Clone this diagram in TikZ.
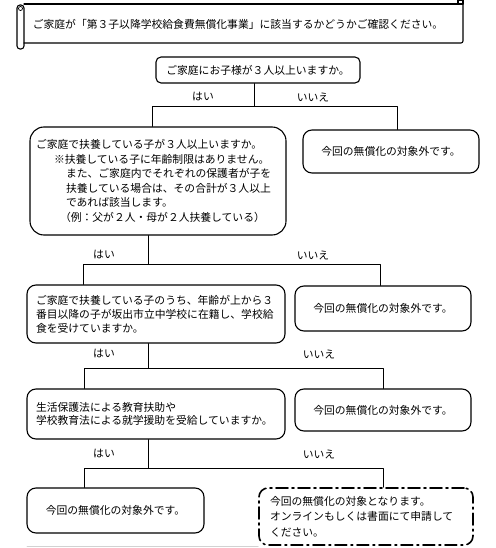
\documentclass[tikz,border=0pt]{standalone}
\usepackage{fontspec}
\newfontfamily\jp{Noto Sans CJK JP}
\begin{document}
\begin{tikzpicture}[x=1pt,y=-1pt, line join=round, line cap=round,
	font=\jp\fontsize{10.8}{14.6}\selectfont,
	hop/.style={draw, line width=1.1pt, rounded corners=9pt, inner sep=0pt},
	nhan/.style={inner sep=0pt},
	nhanh/.style={line width=0.7pt}]
	\useasboundingbox (0,0) rectangle (495,548);
	% tieu de (cuon giay)
	\draw[line width=1.1pt] (24,4)--(458,4);
	\draw[line width=1.1pt, rounded corners=2pt] (463,0)--(463,43)--(24,43);
	\draw[line width=1.1pt] (458,0) rectangle (463,4);
	\draw[line width=1.1pt, rounded corners=3pt] (17,5) rectangle (24,49);
	\draw[line width=0.7pt] (20.5,8.5) circle (2pt);
	\node[nhan] (tieude) at (238,24) {ご家庭が「第３子以降学校給食費無償化事業」に該当するかどうかご確認ください。};
	% cac o
	\node[hop, rounded corners=5pt, minimum width=204, minimum height=26] (q1) at (258,70) {ご家庭にお子様が３人以上いますか。};
	\node[hop, rounded corners=14pt, minimum width=256, minimum height=108, text width=244, align=left] (q2) at (158,181) {ご家庭で扶養している子が３人以上いますか。\\
		\hspace*{18pt}※扶養している子に年齢制限はありません。\\
		\hspace*{30pt}また、ご家庭内でそれぞれの保護者が子を\\
		\hspace*{30pt}扶養している場合は、その合計が３人以上\\
		\hspace*{30pt}であれば該当します。\\
		\hspace*{24pt}（例：父が２人・母が２人扶養している）};
	\node[hop, minimum width=176, minimum height=43] (n1) at (391,151.5) {今回の無償化の対象外です。};
	\node[hop, minimum width=258, minimum height=58, text width=240, align=left, font=\jp\fontsize{10.8}{14}\selectfont] (q3) at (156,314) {ご家庭で扶養している子のうち、年齢が上から３\\
		番目以降の子が坂出市立中学校に在籍し、学校給\\
		食を受けていますか。};
	\node[hop, minimum width=176, minimum height=45] (n2) at (383,308.5) {今回の無償化の対象外です。};
	\node[hop, minimum width=258, minimum height=50, text width=240, align=left, font=\jp\fontsize{10.8}{13.5}\selectfont] (q4) at (156,414) {生活保護法による教育扶助や\\
		学校教育法による就学援助を受給していますか。};
	\node[hop, minimum width=176, minimum height=42] (n3) at (383,410) {今回の無償化の対象外です。};
	\node[hop, minimum width=177, minimum height=45] (n4) at (115.5,510.5) {今回の無償化の対象外です。};
	\node[hop, line width=1.6pt, dash pattern=on 12pt off 4pt on 2pt off 4pt, minimum width=214, minimum height=57, text width=192, align=left, font=\jp\fontsize{10.8}{15.5}\selectfont] (ok) at (366,516.5) {今回の無償化の対象となります。\\
		オンラインもしくは書面にて申請して\\
		ください。};
	% nhanh re
	\coordinate (j1) at (254,106); \coordinate (l1) at (152,106); \coordinate (r1) at (397,106);
	\coordinate (j2) at (148,264); \coordinate (l2) at (83,264);  \coordinate (r2) at (380,264);
	\coordinate (j3) at (148,368); \coordinate (l3) at (84,368);  \coordinate (r3) at (383,368);
	\coordinate (j4) at (148,468); \coordinate (l4) at (84,468);  \coordinate (r4) at (383,468);
	\draw[nhanh] (j1 |- q1.south)--(j1);
	\draw[nhanh] (l1 |- q2.north)--(l1)--(r1)--(r1 |- n1.north);
	\draw[nhanh] (j2 |- q2.south)--(j2);
	\draw[nhanh] (l2 |- q3.north)--(l2)--(r2)--(r2 |- n2.north);
	\draw[nhanh] (j3 |- q3.south)--(j3);
	\draw[nhanh] (l3 |- q4.north)--(l3)--(r3)--(r3 |- n3.north);
	\draw[nhanh] (j4 |- q4.south)--(j4);
	\draw[nhanh] (l4 |- n4.north)--(l4)--(r4)--(r4 |- ok.north);
	\node[nhan] (co1) at (203,97) {はい};   \node[nhan] (khong1) at (313,97) {いいえ};
	\node[nhan] (co2) at (104,255) {はい};  \node[nhan] (khong2) at (313,255) {いいえ};
	\node[nhan] (co3) at (104,354) {はい};  \node[nhan] (khong3) at (319,354) {いいえ};
	\node[nhan] (co4) at (104,454) {はい};  \node[nhan] (khong4) at (319,454) {いいえ};
	\draw[gray!35, line width=0.8pt] (27,546.5)--(ok.south west |- 0,546.5);
\end{tikzpicture}
\end{document}
